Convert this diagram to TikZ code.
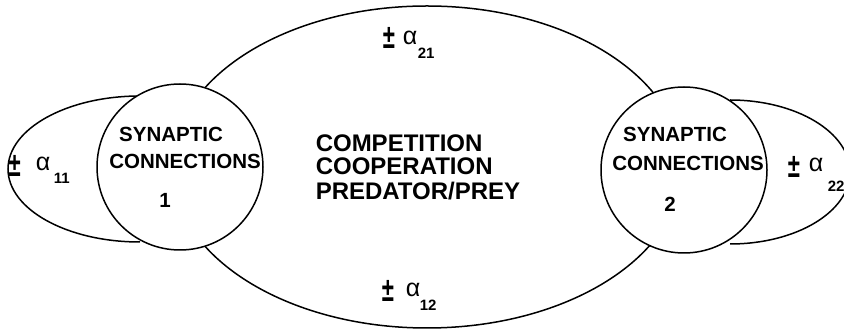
\documentclass[tikz,border=0pt]{standalone}
\usepackage{fontspec}
\setmainfont{Liberation Sans}
\usetikzlibrary{shapes.geometric}
\begin{document}
\begin{tikzpicture}[x=1pt,y=1pt,line width=1.5pt,
  syn/.style={circle,draw,fill=white,minimum size=166pt,inner sep=0pt},
  bigloop/.style={ellipse,draw,inner sep=0pt},
  lab/.style={font=\bfseries\fontsize{20.5}{22}\selectfont,anchor=base,inner sep=0pt},
  mid/.style={font=\bfseries\fontsize{24}{26}\selectfont,anchor=base west,inner sep=0pt},
  pm/.style={font=\bfseries\fontsize{34}{36}\selectfont,anchor=base west,inner sep=0pt},
  alph/.style={font=\fontsize{25}{27}\selectfont,anchor=base west,inner sep=0pt},
  sub/.style={font=\bfseries\fontsize{15}{17}\selectfont,anchor=base west,inner sep=0pt}]
\useasboundingbox (0,0) rectangle (844,329);
\begin{scope}
\clip (0,0) rectangle (844,329);
% large ellipse linking the two circles
\node[bigloop,minimum width=510pt,minimum height=322pt] (big) at (427,162) {};
% self loops
\coordinate (l1top) at (140,233);
\coordinate (r2top) at (730,229);
\draw (l1top) arc[start angle=90,end angle=270,x radius=132,y radius=73];
\draw (r2top) arc[start angle=90,end angle=-90,x radius=120,y radius=72];
% circles
\node[syn] (c1) at (180,162) {};
\node[syn] (c2) at (684,159) {};
\end{scope}
% circle texts
\node[lab] (s1a) at (171,187) {SYNAPTIC};
\node[lab] (s1b) at (185,160) {CONNECTIONS};
\node[lab] (s1c) at (165,121) {1};
\node[lab] (s2a) at (675,187) {SYNAPTIC};
\node[lab] (s2b) at (688,158) {CONNECTIONS};
\node[lab] (s2c) at (670,117) {2};
% middle text
\node[mid] (m1) at (315,177) {COMPETITION};
\node[mid] (m2) at (315,154) {COOPERATION};
\node[mid] (m3) at (315,129) {PREDATOR/PREY};
% coefficient labels
\node[pm] (p11) at (8,152) {\scalebox{0.65}[1]{±}};
\node[alph] (a11) at (35,158) {α};
\node[sub] (n11) at (53,145) {11};
\node[pm] (p21) at (382,280) {\scalebox{0.65}[1]{±}};
\node[alph] (a21) at (402,284) {α};
\node[sub] (n21) at (417,270) {21};
\node[pm] (p12) at (381,27) {\scalebox{0.65}[1]{±}};
\node[alph] (a12) at (405,32) {α};
\node[sub] (n12) at (419,18) {12};
\node[pm] (p22) at (787,151) {\scalebox{0.65}[1]{±}};
\node[alph] (a22) at (808,157) {α};
\node[sub] (n22) at (827,137) {22};
\end{tikzpicture}
\end{document}
